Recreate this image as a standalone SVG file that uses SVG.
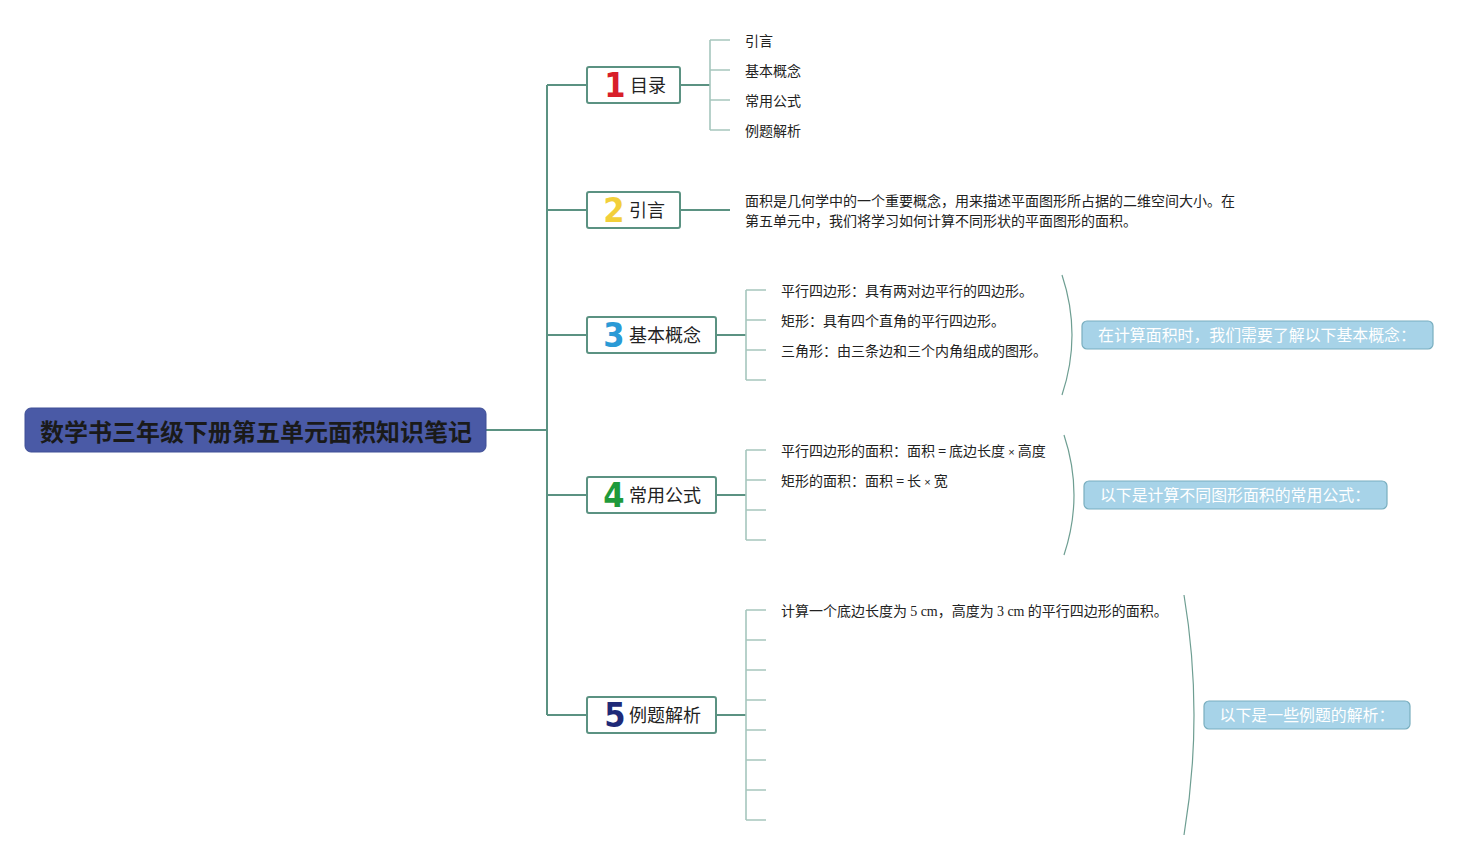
<svg xmlns="http://www.w3.org/2000/svg" width="1478" height="860" viewBox="0 0 1478 860">
<style>
text{font-family:"Noto Sans CJK SC","Liberation Sans",sans-serif;}
.root{fill:#4a5aa6;stroke:#3f4f96;stroke-width:1}
.rt{font-size:24px;font-weight:bold;fill:#1a1a1a}
.node{fill:#fff;stroke:#5b9282;stroke-width:2}
.nt{font-size:18px;fill:#222}
.num{font-size:34px;font-weight:bold;font-family:"Liberation Sans Narrow","DejaVu Sans Condensed","Liberation Sans",sans-serif}
.leaf{font-size:14px;fill:#222}
.main{stroke:#5b9282;stroke-width:2;fill:none}
.tick{stroke:#a6c6bd;stroke-width:1.6;fill:none}
.brace{stroke:#6e9e92;stroke-width:1.2;fill:none}
.sum{fill:#a7d3e8;stroke:#79aebf;stroke-width:1.2}
.st{font-size:15.9px;fill:#fff}
.ser{font-family:"Liberation Serif",serif}
.x{font-family:"Liberation Sans",sans-serif;font-size:11px}
</style>
<rect width="1478" height="860" fill="#fff"/>
<g id="connectors">
<path class="main" d="M486 430H547M547 85V715M547 85H587M547 210H587M547 335H587M547 495H587M547 715H587"/>
<path class="main" d="M680 85H710M680 210H730M716 335H746M716 495H746M716 715H746"/>
<path class="tick" d="M710 40V130M710 40H730M710 70H730M710 100H730M710 130H730"/>
<path class="tick" d="M746 290V380M746 290H766M746 320H766M746 350H766M746 380H766"/>
<path class="tick" d="M746 450V540M746 450H766M746 480H766M746 510H766M746 540H766"/>
<path class="tick" d="M746 610V820M746 610H766M746 640H766M746 670H766M746 700H766M746 730H766M746 760H766M746 790H766M746 820H766"/>
<path class="brace" d="M1062 275Q1082 335 1062 395"/>
<path class="brace" d="M1064 435Q1084 495 1064 555"/>
<path class="brace" d="M1184 595Q1204 715 1184 835"/>
</g>
<g id="root">
<rect class="root" x="25" y="408" width="461" height="44" rx="6"/>
<text class="rt" x="256" y="441" text-anchor="middle">数学书三年级下册第五单元面积知识笔记</text>
</g>
<g id="n1">
<rect class="node" x="587" y="67" width="93" height="36" rx="2"/>
<text class="num" x="615" y="97" fill="#d81f2a" text-anchor="middle">1</text>
<text class="nt" x="630" y="92">目录</text>
</g>
<g id="n1-items">
<text class="leaf" x="745" y="46">引言</text>
<text class="leaf" x="745" y="76">基本概念</text>
<text class="leaf" x="745" y="106">常用公式</text>
<text class="leaf" x="745" y="136">例题解析</text>
</g>
<g id="n2">
<rect class="node" x="587" y="192" width="93" height="36" rx="2"/>
<text class="num" x="614" y="222" fill="#f2cf3a" text-anchor="middle">2</text>
<text class="nt" x="629" y="217">引言</text>
</g>
<g id="n2-text">
<text class="leaf" x="745" y="206">面积是几何学中的一个重要概念，用来描述平面图形所占据的二维空间大小。在</text>
<text class="leaf" x="745" y="226">第五单元中，我们将学习如何计算不同形状的平面图形的面积。</text>
</g>
<g id="n3">
<rect class="node" x="587" y="317" width="129" height="36" rx="2"/>
<text class="num" x="614" y="347" fill="#2a9ad6" text-anchor="middle">3</text>
<text class="nt" x="629" y="342">基本概念</text>
</g>
<g id="n3-items">
<text class="leaf" x="781" y="296">平行四边形：具有两对边平行的四边形。</text>
<text class="leaf" x="781" y="326">矩形：具有四个直角的平行四边形。</text>
<text class="leaf" x="781" y="356">三角形：由三条边和三个内角组成的图形。</text>
</g>
<g id="s3">
<rect class="sum" x="1082" y="321" width="351" height="28" rx="5"/>
<text class="st" x="1257" y="341" text-anchor="middle">在计算面积时，我们需要了解以下基本概念：</text>
</g>
<g id="n4">
<rect class="node" x="587" y="477" width="129" height="36" rx="2"/>
<text class="num" x="614" y="507" fill="#1f9a3b" text-anchor="middle">4</text>
<text class="nt" x="629" y="502">常用公式</text>
</g>
<g id="n4-items">
<text class="leaf" x="781" y="456">平行四边形的面积：面积 = 底边长度 <tspan class="x">×</tspan> 高度</text>
<text class="leaf" x="781" y="486">矩形的面积：面积 = 长 <tspan class="x">×</tspan> 宽</text>
</g>
<g id="s4">
<rect class="sum" x="1084" y="481" width="303" height="28" rx="5"/>
<text class="st" x="1235" y="501" text-anchor="middle">以下是计算不同图形面积的常用公式：</text>
</g>
<g id="n5">
<rect class="node" x="587" y="697" width="129" height="36" rx="2"/>
<text class="num" x="615" y="727" fill="#1f2a78" text-anchor="middle">5</text>
<text class="nt" x="629" y="722">例题解析</text>
</g>
<g id="n5-items">
<text class="leaf" x="781" y="616">计算一个底边长度为 <tspan class="ser">5 cm</tspan>，高度为 <tspan class="ser">3 cm</tspan> 的平行四边形的面积。</text>
</g>
<g id="s5">
<rect class="sum" x="1204" y="701" width="206" height="28" rx="5"/>
<text class="st" x="1307" y="721" text-anchor="middle">以下是一些例题的解析：</text>
</g>
</svg>
